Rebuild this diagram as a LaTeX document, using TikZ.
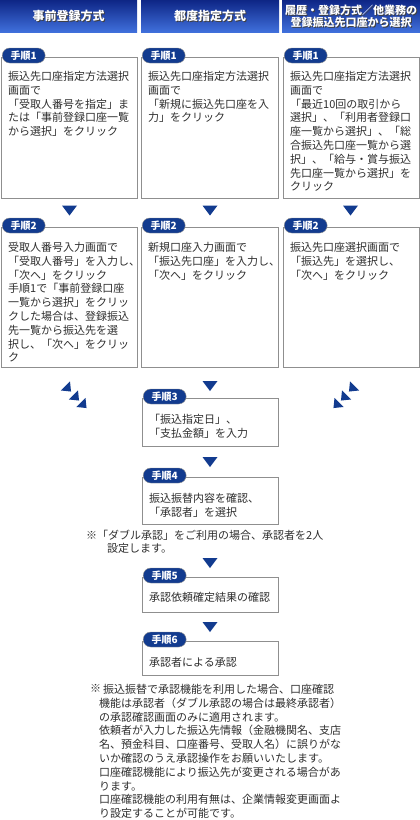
\documentclass[tikz,border=0pt]{standalone}
\usepackage{fontspec}
\setmainfont{Noto Sans CJK JP}
\usepackage{xcolor}
\usepackage{tikz}
\usetikzlibrary{calc}

\definecolor{stepnavy}{HTML}{123B8F}
\definecolor{headtop}{HTML}{0E2686}
\definecolor{headbottom}{HTML}{4070DC}
\definecolor{frame}{HTML}{8F8F8F}
\definecolor{ink}{HTML}{2E2E2E}

\tikzset{
	headbox/.style={anchor=north west, inner sep=0pt, top color=headtop, bottom color=headbottom, minimum height=32pt},
	headtext/.style={text=white, align=center, font=\fontsize{12}{12.5}\selectfont\bfseries},
	headshadow/.style={headtext, text=black!75},
	stepbox/.style={draw=frame, line width=0.8pt, fill=white, anchor=north west, inner sep=0pt},
	steptext/.style={anchor=north west, inner sep=0pt, align=left, text=ink, font=\fontsize{11}{13.8}\selectfont},
	tag/.style={fill=stepnavy, draw=frame, line width=0.4pt, rounded corners=7.5pt, anchor=west, minimum width=43pt, minimum height=15pt, inner sep=0pt, text=white, font=\fontsize{10}{10}\selectfont\bfseries},
	marker/.style={fill=stepnavy},
}

\begin{document}
\begin{tikzpicture}[x=1pt, y=-1pt]
	\useasboundingbox (0,0) rectangle (420,820);

	\begin{scope}
		\node[headbox, minimum width=137pt] (heada) at (0,0) {};
		\node[headbox, minimum width=138pt] (headb) at (141,0) {};
		\node[headbox, minimum width=138pt] (headc) at (282,0) {};

		\node[headshadow] (titleas) at ([shift={(1pt,-1pt)}]heada.center) {事前登録方式};
		\node[headtext] (titlea) at (heada.center) {事前登録方式};
		\node[headshadow] (titlebs) at ([shift={(1pt,-1pt)}]headb.center) {都度指定方式};
		\node[headtext] (titleb) at (headb.center) {都度指定方式};
		\node[headshadow, font=\fontsize{11}{12.5}\selectfont\bfseries] (titlecs) at ([shift={(1pt,-1pt)}]headc.center) {履歴・登録方式／他業務の\\登録振込先口座から選択};
		\node[headtext, font=\fontsize{11}{12.5}\selectfont\bfseries] (titlec) at (headc.center) {履歴・登録方式／他業務の\\登録振込先口座から選択};
	\end{scope}

	\begin{scope}
		\foreach \col/\xx/\ww in {a/1/136, b/141/137, c/283/136}
		{
			\node[stepbox, minimum width=\ww pt, minimum height=141pt] (first\col) at (\xx,57) {};
			\node[tag] (tagfirst\col) at ([xshift=1pt, yshift=1.5pt]first\col.north west) {手順1};
			\node[stepbox, minimum width=\ww pt, minimum height=140pt] (second\col) at (\xx,227) {};
			\node[tag] (tagsecond\col) at ([xshift=1pt, yshift=1.5pt]second\col.north west) {手順2};
		}

		\node[steptext] (textfirsta) at ([xshift=7pt, yshift=-14pt]firsta.north west) {振込先口座指定方法選択\\画面で\\「受取人番号を指定」ま\\たは「事前登録口座一覧\\から選択」をクリック};
		\node[steptext] (textfirstb) at ([xshift=7pt, yshift=-14pt]firstb.north west) {振込先口座指定方法選択\\画面で\\「新規に振込先口座を入\\力」をクリック};
		\node[steptext] (textfirstc) at ([xshift=7pt, yshift=-14pt]firstc.north west) {振込先口座指定方法選択\\画面で\\「最近10回の取引から\\選択」、「利用者登録口\\座一覧から選択」、「総\\合振込先口座一覧から選\\択」、「給与・賞与振込\\先口座一覧から選択」を\\クリック};

		\node[steptext] (textseconda) at ([xshift=7pt, yshift=-15pt]seconda.north west) {受取人番号入力画面で\\「受取人番号」を入力し、\\「次へ」をクリック\\手順1で「事前登録口座\\一覧から選択」をクリッ\\クした場合は、登録振込\\先一覧から振込先を選\\択し、「次へ」をクリッ\\ク};
		\node[steptext] (textsecondb) at ([xshift=7pt, yshift=-15pt]secondb.north west) {新規口座入力画面で\\「振込先口座」を入力し、\\「次へ」をクリック};
		\node[steptext] (textsecondc) at ([xshift=7pt, yshift=-15pt]secondc.north west) {振込先口座選択画面で\\「振込先」を選択し、\\「次へ」をクリック};
	\end{scope}

	\begin{scope}
		\foreach \n/\top/\h in {3/398/48, 4/477/47, 5/577/35, 6/641/34}
		{
			\node[stepbox, minimum width=136pt, minimum height=\h pt] (step\n) at (142,\top) {};
			\node[tag] (tagstep\n) at ([xshift=1pt, yshift=1.5pt]step\n.north west) {手順\n};
		}

		\node[steptext] (textstep3) at ([xshift=7pt, yshift=-16pt]step3.north west) {「振込指定日」、\\「支払金額」を入力};
		\node[steptext] (textstep4) at ([xshift=7pt, yshift=-16pt]step4.north west) {振込振替内容を確認、\\「承認者」を選択};
		\node[steptext] (textstep5) at ([xshift=7pt, yshift=-15pt]step5.north west) {承認依頼確定結果の確認};
		\node[steptext] (textstep6) at ([xshift=7pt, yshift=-16pt]step6.north west) {承認者による承認};
	\end{scope}

	\begin{scope}
		\node[steptext, font=\fontsize{11}{13}\selectfont] (notea) at (86,530) {※「ダブル承認」をご利用の場合、承認者を2人\\\hspace*{21pt}設定します。};

		\node[steptext] (markb) at (90,684) {※};
		\node[steptext] (noteb) at (99,684) {\hspace*{4pt}振込振替で承認機能を利用した場合、口座確認\\機能は承認者（ダブル承認の場合は最終承認者）\\の承認確認画面のみに適用されます。\\依頼者が入力した振込先情報（金融機関名、支店\\名、預金科目、口座番号、受取人名）に誤りがな\\いか確認のうえ承認操作をお願いいたします。\\口座確認機能により振込先が変更される場合があ\\ります。\\口座確認機能の利用有無は、企業情報変更画面よ\\り設定することが可能です。};
	\end{scope}

	\begin{scope}
		\foreach \mx/\my in {69.5/210.5, 210/210.5, 350.5/210.5, 210/386, 210/462, 210/563, 210/627}
		{
			\fill[marker, shift={(\mx,\my)}] (-7.5,-5) -- (7.5,-5) -- (0,5) -- cycle;
		}

		\foreach \mx/\my in {67.5/388, 75.5/397, 83/404.5}
		{
			\fill[marker, shift={(\mx,\my)}, rotate=45] (-6.5,-3) -- (6.5,-3) -- (0,5) -- cycle;
		}

		\foreach \mx/\my in {352.5/388, 344.5/397, 337/404.5}
		{
			\fill[marker, shift={(\mx,\my)}, rotate=-45] (-6.5,-3) -- (6.5,-3) -- (0,5) -- cycle;
		}
	\end{scope}
\end{tikzpicture}
\end{document}
